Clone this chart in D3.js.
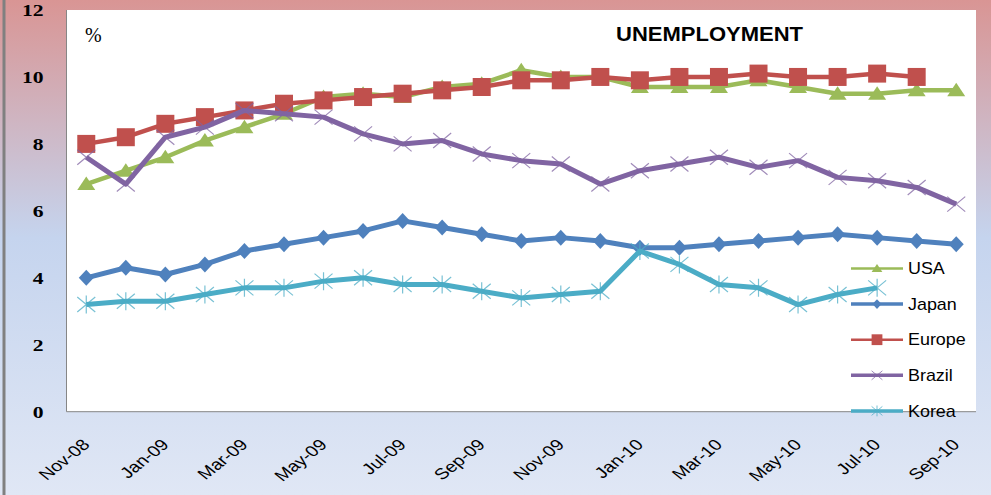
<!DOCTYPE html>
<html>
<head>
<meta charset="utf-8">
<script src="https://cdn.jsdelivr.net/npm/d3@7"></script>
<style>
  body { margin: 0; padding: 0; }
  svg { display: block; }
</style>
</head>
<body>
<script>
// monthly unemployment rates, %
var months = ['Nov-08','Dec-08','Jan-09','Feb-09','Mar-09','Apr-09','May-09','Jun-09','Jul-09','Aug-09','Sep-09','Oct-09',
              'Nov-09','Dec-09','Jan-10','Feb-10','Mar-10','Apr-10','May-10','Jun-10','Jul-10','Aug-10','Sep-10'];
var usa    = [6.8, 7.2, 7.6, 8.1, 8.5, 8.9, 9.4, 9.5, 9.4, 9.7, 9.8, 10.2, 10.0, 10.0, 9.7, 9.7, 9.7, 9.9, 9.7, 9.5, 9.5, 9.6, 9.6];
var japan  = [4.0, 4.3, 4.1, 4.4, 4.8, 5.0, 5.2, 5.4, 5.7, 5.5, 5.3, 5.1, 5.2, 5.1, 4.9, 4.9, 5.0, 5.1, 5.2, 5.3, 5.2, 5.1, 5.0];
var europe = [8.0, 8.2, 8.6, 8.8, 9.0, 9.2, 9.3, 9.4, 9.5, 9.6, 9.7, 9.9, 9.9, 10.0, 9.9, 10.0, 10.0, 10.1, 10.0, 10.0, 10.1, 10.0];
var brazil = [7.6, 6.8, 8.2, 8.5, 9.0, 8.9, 8.8, 8.3, 8.0, 8.1, 7.7, 7.5, 7.4, 6.8, 7.2, 7.4, 7.6, 7.3, 7.5, 7.0, 6.9, 6.7, 6.2];
var korea  = [3.2, 3.3, 3.3, 3.5, 3.7, 3.7, 3.9, 4.0, 3.8, 3.8, 3.6, 3.4, 3.5, 3.6, 4.8, 4.4, 3.8, 3.7, 3.2, 3.5, 3.7];
var yTicks = [0, 2, 4, 6, 8, 10, 12];
var xTicks = months.filter(function(d, i){ return i % 2 == 0; });

var width = 991,
    height = 495;

var plot = {left: 66.5, top: 10, right: 976, bottom: 411.7};

var svg = d3.select("body").append("svg")
    .attr("width", width)
    .attr("height", height);

// background gradient
var grad = svg.append("defs").append("linearGradient")
    .attr("id", "bg")
    .attr("x1", 0).attr("y1", 0).attr("x2", 0).attr("y2", 1);
grad.append("stop").attr("offset", "0%").attr("stop-color", "#d99594");
grad.append("stop").attr("offset", "48%").attr("stop-color", "#c5d4ee");
grad.append("stop").attr("offset", "100%").attr("stop-color", "#e0e7f5");

svg.append("rect")
    .attr("width", width)
    .attr("height", height)
    .attr("fill", "url(#bg)");

svg.append("line")
    .attr("x1", 4).attr("x2", 4)
    .attr("y1", 0).attr("y2", height)
    .attr("stroke", "#808080")
    .attr("stroke-width", 3);

svg.append("rect")
    .attr("x", plot.left)
    .attr("y", plot.top)
    .attr("width", plot.right - plot.left)
    .attr("height", plot.bottom - plot.top)
    .attr("fill", "#fff");

var x = d3.scalePoint()
    .domain(months)
    .range([plot.left, plot.right])
    .padding(0.5);

var y = d3.scaleLinear()
    .domain([0, 12])
    .range([plot.bottom, plot.top]);

// y axis
var yAxis = svg.append("g")
    .attr("transform", "translate(" + plot.left + ",0)")
    .call(d3.axisLeft(y).tickValues(yTicks).tickSize(0));
yAxis.select(".domain").remove();
yAxis.selectAll("text")
    .attr("x", 0)
    .attr("dy", "0.34em")
    .attr("transform", "translate(-23,0) scale(1.35,1)")
    .style("font-family", "'Liberation Serif', 'Times New Roman', serif")
    .style("font-weight", "bold")
    .style("font-size", "16px")
    .attr("fill", "#000");

// x axis
var xAxis = svg.append("g")
    .attr("transform", "translate(0," + plot.bottom + ")")
    .call(d3.axisBottom(x).tickValues(xTicks).tickSize(0));
xAxis.select(".domain").remove();
xAxis.selectAll("text")
    .attr("x", 0)
    .attr("y", 0)
    .attr("dy", 0)
    .attr("text-anchor", "end")
    .attr("transform", "translate(4,34) scale(1.25,1) rotate(-45)")
    .style("font-family", "'Liberation Sans', Arial, sans-serif")
    .style("font-size", "15.5px")
    .attr("fill", "#000");

svg.append("line")
    .attr("x1", plot.left).attr("x2", plot.left)
    .attr("y1", plot.top).attr("y2", plot.bottom)
    .attr("stroke", "#868686");
svg.append("line")
    .attr("x1", plot.left).attr("x2", plot.right)
    .attr("y1", plot.bottom).attr("y2", plot.bottom)
    .attr("stroke", "#868686");

// marker shapes
var shapes = {
    triangle: function(s){ return "M0," + (-7.5*s) + "L" + (9*s) + "," + (6*s) + "L" + (-9*s) + "," + (6*s) + "Z"; },
    diamond:  function(s){ return "M0," + (-8*s) + "L" + (7.5*s) + ",0L0," + (8*s) + "L" + (-7.5*s) + ",0Z"; },
    square:   function(s){ return "M" + (-9*s) + "," + (-9*s) + "h" + (18*s) + "v" + (18*s) + "h" + (-18*s) + "Z"; },
    cross:    function(s){ return "M" + (-9*s) + "," + (-7.5*s) + "L" + (9*s) + "," + (7.5*s) + "M" + (9*s) + "," + (-7.5*s) + "L" + (-9*s) + "," + (7.5*s); },
    star:     function(s){ return "M" + (-9*s) + "," + (-7.5*s) + "L" + (9*s) + "," + (7.5*s) + "M" + (9*s) + "," + (-7.5*s) + "L" + (-9*s) + "," + (7.5*s) + "M0," + (-9*s) + "L0," + (9*s); }
};

var series = [
    {name: "USA",    values: usa,    color: "#9bbb59", shape: "triangle", width: 4.5, filled: true,  legendW: 2.5},
    {name: "Japan",  values: japan,  color: "#4f81bd", shape: "diamond",  width: 5,   filled: true,  legendW: 3.5},
    {name: "Europe", values: europe, color: "#c0504d", shape: "square",   width: 4.5, filled: true,  legendW: 2.5},
    {name: "Brazil", values: brazil, color: "#8064a2", shape: "cross",    width: 5,   filled: false, legendW: 3.5},
    {name: "Korea",  values: korea,  color: "#4bacc6", shape: "star",     width: 5,   filled: false, legendW: 3.5}
];

var line = d3.line()
    .x(function(d, i){ return x(months[i]); })
    .y(function(d){ return y(d); });

series.forEach(function(s){
    var g = svg.append("g");
    g.append("path")
        .datum(s.values)
        .attr("fill", "none")
        .attr("stroke", s.color)
        .attr("stroke-width", s.width)
        .attr("stroke-linejoin", "round")
        .attr("d", line);

    g.selectAll("path.mark")
        .data(s.values).enter()
        .append("path")
        .attr("class", "mark")
        .attr("transform", function(d, i){ return "translate(" + x(months[i]) + "," + y(d) + ")"; })
        .attr("d", shapes[s.shape](1))
        .attr("fill", s.filled ? s.color : "none")
        .attr("stroke", s.color)
        .attr("stroke-width", s.filled ? 0 : 1.2)
        .style("opacity", s.filled ? 1 : 0.75);
});

// legend
var legend = svg.append("g")
    .attr("class", "legend")
    .attr("transform", "translate(851,268.5)");

var rows = legend.selectAll("g")
    .data(series).enter()
    .append("g")
    .attr("transform", function(d, i){ return "translate(0," + (i * 35.6) + ")"; });

rows.append("line")
    .attr("x1", 0).attr("x2", 52)
    .attr("stroke", function(d){ return d.color; })
    .attr("stroke-width", function(d){ return d.legendW; });

rows.append("path")
    .attr("transform", "translate(26,0)")
    .attr("d", function(d){ return shapes[d.shape](0.6); })
    .attr("fill", function(d){ return d.filled ? d.color : "none"; })
    .attr("stroke", function(d){ return d.color; })
    .attr("stroke-width", function(d){ return d.filled ? 0 : 1; })
    .style("opacity", function(d){ return d.filled ? 1 : 0.75; });

rows.append("text")
    .attr("transform", "translate(57,0) scale(1.12,1)")
    .attr("dy", "0.36em")
    .style("font-family", "'Liberation Sans', Arial, sans-serif")
    .style("font-size", "16px")
    .text(function(d){ return d.name; });

// titles
svg.append("text")
    .attr("x", 616)
    .attr("y", 40.7)
    .attr("textLength", 187)
    .attr("lengthAdjust", "spacingAndGlyphs")
    .style("font-family", "'Liberation Sans', Arial, sans-serif")
    .style("font-weight", "bold")
    .style("font-size", "20px")
    .text("UNEMPLOYMENT");

svg.append("text")
    .attr("x", 85)
    .attr("y", 41.5)
    .style("font-family", "'Liberation Serif', 'Times New Roman', serif")
    .style("font-size", "20px")
    .text("%");
</script>
</body>
</html>
